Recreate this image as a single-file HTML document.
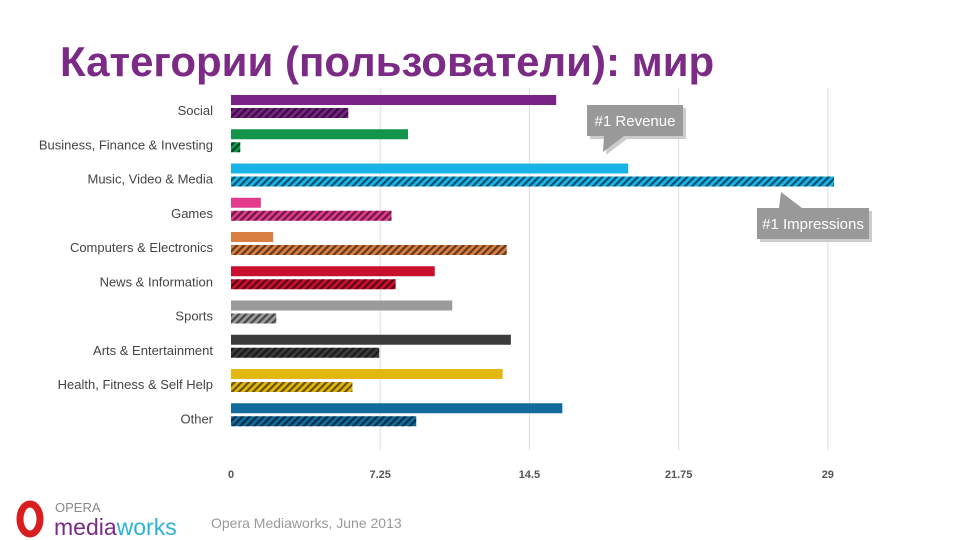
<!DOCTYPE html>
<html><head><meta charset="utf-8">
<style>
body{margin:0;width:975px;height:540px;background:#fff;overflow:hidden;font-family:"Liberation Sans",sans-serif;}
#title{position:absolute;left:60px;top:38px;font-size:42px;font-weight:bold;color:#7b2a85;letter-spacing:0px;}
svg{position:absolute;left:0;top:0;}
</style></head><body>
<div id="title">Категории (пользователи): мир</div>
<svg id="chart" width="975" height="540">
<defs>
<pattern id="hatch" width="5" height="5" patternUnits="userSpaceOnUse" patternTransform="rotate(45)">
<rect width="2.2" height="5" fill="#000" fill-opacity="0.55"/>
</pattern>
</defs>
</svg>
<script>
const categories=["Social","Business, Finance & Investing","Music, Video & Media","Games","Computers & Electronics","News & Information","Sports","Arts & Entertainment","Health, Fitness & Self Help","Other"];
const revenue=[15.8,8.6,19.3,1.45,2.05,9.9,10.75,13.6,13.2,16.1];
const impressions=[5.7,0.45,29.3,7.8,13.4,8.0,2.2,7.2,5.9,9.0];
const colors=["#7b2288","#13944a","#1ab3e8","#e23a8c","#d97f44","#c8102e","#9b9b9b","#3b3b3b","#e2b70f","#136a9c"];
const ticks=[0,7.25,14.5,21.75,29];
const tickLabels=["0","7.25","14.5","21.75","29"];
const svg=document.getElementById('chart');
const NS="http://www.w3.org/2000/svg";
const x0=231,scale=20.58,y0=95,step=34.25;
const xs=v=>x0+v*scale;
function mk(t,a){const e=document.createElementNS(NS,t);for(const k in a)e.setAttribute(k,a[k]);svg.appendChild(e);return e;}
ticks.forEach((t,i)=>{
 if(i>0){const g=mk('line',{x1:xs(t),x2:xs(t),y1:88,y2:450,stroke:'#ddd','stroke-width':1});
 
 }
 const l=mk('text',{x:xs(t),y:478,'text-anchor':'middle','font-size':11,fill:'#555','font-weight':'bold'});
 l.textContent=tickLabels[i];
 
 
});
categories.forEach((c,i)=>{
 const y=y0+i*step;
 const t=mk('text',{x:213,y:y+20,'text-anchor':'end','font-size':13,fill:'#444'});
 t.textContent=c;
 
 
 const r=mk('rect',{x:x0,y:y,width:revenue[i]*scale,height:10,fill:colors[i]});
 
 
 const h=mk('rect',{x:x0,y:y+13,width:impressions[i]*scale,height:10,fill:colors[i]});
 
 
 const h2=mk('rect',{x:x0,y:y+13,width:impressions[i]*scale,height:10,fill:'url(#hatch)'});
 
 
});
</script>
<svg width="975" height="540" style="pointer-events:none">
<g>
<rect x="590" y="108" width="96" height="31" fill="#ccc"/>
<polygon points="607,139 627,139 606,155" fill="#ccc"/>
<rect x="587" y="105" width="96" height="31" fill="#999"/>
<polygon points="604,136 624,136 603,152" fill="#999"/>
<text x="635" y="126" text-anchor="middle" font-size="15" fill="#fff" font-family="Liberation Sans">#1 Revenue</text>
</g>
<g>
<rect x="760" y="211" width="112" height="31" fill="#ccc"/>
<polygon points="784,195 805,211 782,211" fill="#ccc"/>
<rect x="757" y="208" width="112" height="31" fill="#999"/>
<polygon points="781,192 802,208 779,208" fill="#999"/>
<text x="813" y="229" text-anchor="middle" font-size="15" fill="#fff" font-family="Liberation Sans">#1 Impressions</text>
</g>
<g>
<ellipse cx="30" cy="519" rx="10" ry="15" fill="none" stroke="#d81e1e" stroke-width="7"/>
<text x="55" y="512" font-size="13" fill="#888" font-family="Liberation Sans">OPERA</text>
<text x="54" y="535" font-size="23" fill="#7b2a85" font-family="Liberation Sans">media<tspan fill="#2bb3d6">works</tspan></text>
</g>
<text x="211" y="528" font-size="14" fill="#999" font-family="Liberation Sans">Opera Mediaworks, June 2013</text>
</svg>
</body></html>
